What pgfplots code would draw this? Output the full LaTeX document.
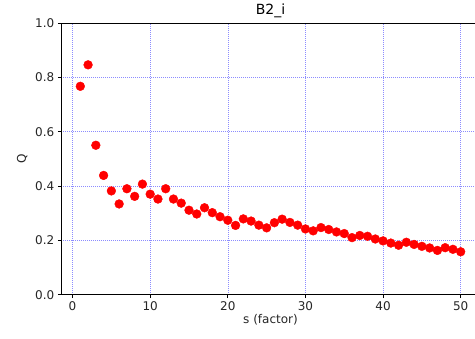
\documentclass[border=0pt]{standalone}
\usepackage{pgfplots}
\pgfplotsset{compat=1.18}
\usepackage{fontspec}
\setmainfont{DejaVu Sans}
\definecolor{ticklab}{HTML}{262626}
\begin{document}
\begin{tikzpicture}[x=1pt,y=1pt]
\begin{axis}[
  at={(61.3pt,44.3pt)}, anchor=south west,
  scale only axis, width=418.4pt, height=271.7pt,
  xmin=-1.45, xmax=52.45, ymin=0, ymax=1,
  xtick={0,10,20,30,40,50},
  ytick={0,0.2,0.4,0.6,0.8,1.0},
  yticklabel style={/pgf/number format/.cd,fixed,fixed zerofill,precision=1},
  /pgf/number format/assume math mode=true,
  tick label style={font=\fontsize{12}{14}\selectfont, text=ticklab},
  label style={font=\fontsize{12}{14}\selectfont, text=ticklab},
  title style={font=\fontsize{14}{16}\selectfont, yshift=-4pt},
  title={B2\_i},
  xlabel={s (factor)}, ylabel={Q},
  xlabel style={yshift=3pt},
  ylabel style={yshift=1pt},
  tick align=outside, major tick length=3.5pt,
  tick style={black, line width=0.8pt},
  xtick pos=bottom, ytick pos=left,
  axis line style={line width=0.8pt},
  grid=major,
  major grid style={blue, line width=0.5pt, dash pattern=on 1pt off 1pt, opacity=0.45},
]
\addplot[only marks, mark=*, mark size=4.4pt, red, mark options={draw=red, fill=red}] coordinates {
(1,0.767) (2,0.846) (3,0.550) (4,0.439) (5,0.382) (6,0.334) (7,0.390) (8,0.362)
(9,0.407) (10,0.370) (11,0.352) (12,0.390) (13,0.352) (14,0.337) (15,0.311)
(16,0.297) (17,0.320) (18,0.302) (19,0.287) (20,0.274) (21,0.255) (22,0.279)
(23,0.271) (24,0.256) (25,0.246) (26,0.265) (27,0.278) (28,0.266) (29,0.256)
(30,0.242) (31,0.235) (32,0.247) (33,0.240) (34,0.231) (35,0.225) (36,0.210)
(37,0.218) (38,0.215) (39,0.205) (40,0.198) (41,0.190) (42,0.182) (43,0.193)
(44,0.185) (45,0.178) (46,0.172) (47,0.163) (48,0.173) (49,0.167) (50,0.158)
};
\end{axis}
\pgfresetboundingbox
\useasboundingbox (0,0) rectangle (475,339);
\end{tikzpicture}
\end{document}
